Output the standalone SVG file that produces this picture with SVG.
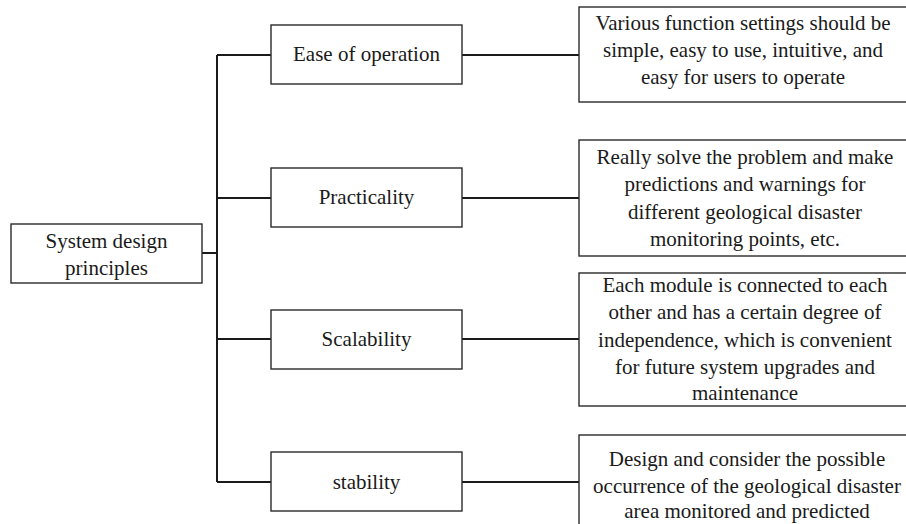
<svg xmlns="http://www.w3.org/2000/svg" width="906" height="524" viewBox="0 0 906 524">
<style>
.box{fill:#fff;stroke:#2a2a2a;stroke-width:1.4}
.t{font-family:"Liberation Serif","Times New Roman",serif;font-size:21px;fill:#1a1a1a;text-anchor:middle}
.c{fill:none;stroke:#1a1a1a;stroke-width:2}
</style>
<rect width="906" height="524" fill="#fff"/>
<g id="connectors">
<path class="c" d="M202 253H217M217 55V482M217 55H271M217 198H271M217 339H271M217 482H271"/>
<path class="c" d="M462 55H579M462 198H579M462 339H579M462 482H579"/>
</g>
<g id="root">
<rect class="box" x="11" y="224" width="191" height="59"/>
<text class="t" x="106.5" y="248">System design</text>
<text class="t" x="106.5" y="275">principles</text>
</g>
<g id="ease">
<rect class="box" x="271" y="25" width="191" height="59"/>
<text class="t" x="366.5" y="61">Ease of operation</text>
</g>
<g id="practicality">
<rect class="box" x="271" y="168" width="191" height="59"/>
<text class="t" x="366.5" y="204">Practicality</text>
</g>
<g id="scalability">
<rect class="box" x="271" y="310" width="191" height="59"/>
<text class="t" x="366.5" y="346">Scalability</text>
</g>
<g id="stability">
<rect class="box" x="271" y="452" width="191" height="59"/>
<text class="t" x="366.5" y="489">stability</text>
</g>
<g id="desc-ease">
<rect class="box" x="579" y="7" width="340" height="95"/>
<text class="t" x="743" y="30">Various function settings should be</text>
<text class="t" x="743" y="57">simple, easy to use, intuitive, and</text>
<text class="t" x="743" y="84">easy for users to operate</text>
</g>
<g id="desc-practicality">
<rect class="box" x="579" y="140" width="340" height="116"/>
<text class="t" x="745" y="164">Really solve the problem and make</text>
<text class="t" x="745" y="191">predictions and warnings for</text>
<text class="t" x="745" y="219">different geological disaster</text>
<text class="t" x="745" y="246">monitoring points, etc.</text>
</g>
<g id="desc-scalability">
<rect class="box" x="579" y="273" width="340" height="133"/>
<text class="t" x="745" y="292">Each module is connected to each</text>
<text class="t" x="745" y="319">other and has a certain degree of</text>
<text class="t" x="745" y="347">independence, which is convenient</text>
<text class="t" x="745" y="374">for future system upgrades and</text>
<text class="t" x="745" y="400">maintenance</text>
</g>
<g id="desc-stability">
<rect class="box" x="579" y="435" width="340" height="110"/>
<text class="t" x="747" y="466">Design and consider the possible</text>
<text class="t" x="747" y="493">occurrence of the geological disaster</text>
<text class="t" x="747" y="518">area monitored and predicted</text>
</g>
</svg>
